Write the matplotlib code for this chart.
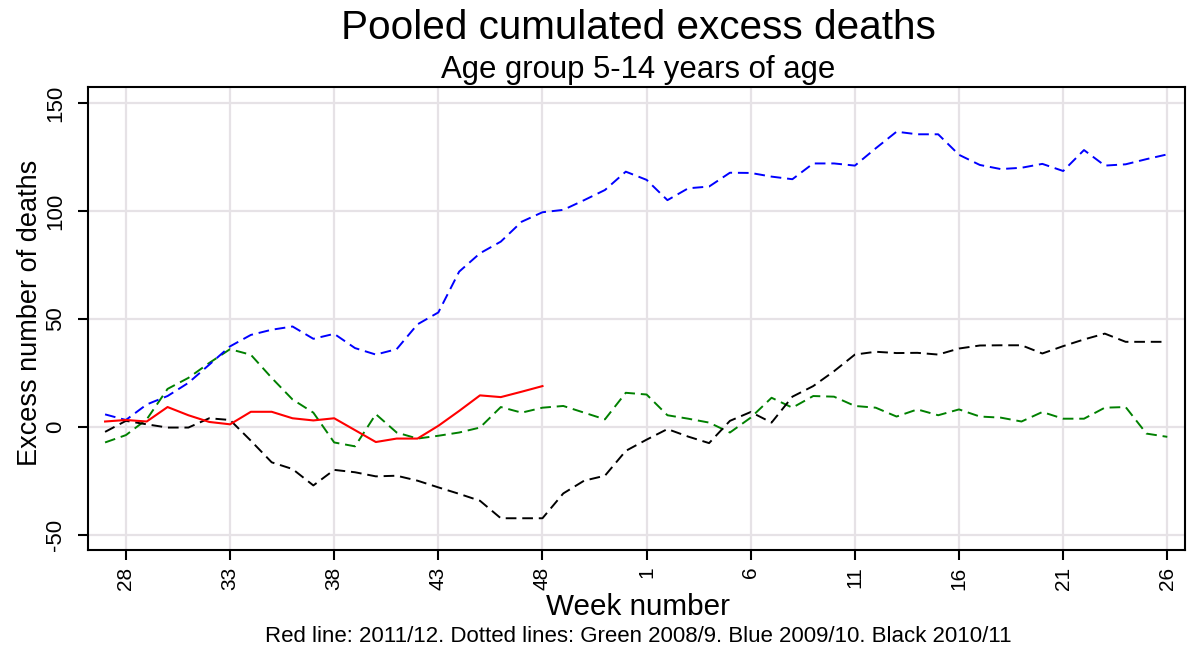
import matplotlib
matplotlib.use("Agg")
import matplotlib.pyplot as plt
import numpy as np

plt.rcParams['font.family'] = ['Liberation Sans', 'DejaVu Sans']

# Week sequence: 27..52 then 1..26
weeks = list(range(27, 53)) + list(range(1, 27))
tick_weeks = [28, 33, 38, 43, 48, 1, 6, 11, 16, 21, 26]

# 2011/12 (red, weeks 27..48)
red = [2.5, 3.2, 2.5, 9.2, 5.4, 2.3, 1.2, 7.0, 7.0, 4.0, 3.0, 4.0, -1.5, -7.0,
       -5.4, -5.4, 0.5, 7.4, 14.6, 13.8, 16.3, 18.9]

# 2008/9 (green)
green = [-7.2, -3.8, 3.5, 17.6, 22.7, 29.6, 36.0, 33.4, 22.7, 12.7, 6.6, -7.2,
         -9.0, 5.9, -2.6, -5.4, -4.1, -2.6, -0.3, 9.2, 6.6, 8.9, 9.7, 6.6, 3.5, 15.8,
         15.0, 5.4, 3.8, 2.0, -2.6, 4.3, 13.5, 8.9, 14.3, 14.0, 9.7, 8.9, 4.8,
         8.1, 5.4, 8.1, 4.8, 4.3, 2.5, 6.9, 3.8, 3.8, 8.9, 9.2, -3.1, -4.6]

# 2009/10 (blue)
blue = [5.8, 3.2, 10.4, 14.3, 20.4, 28.8, 37.3, 42.6, 45.0, 46.5, 40.8, 43.1,
        36.5, 33.5, 36.0, 47.5, 53.0, 71.9, 80.4, 85.8, 95.0, 99.4, 100.5, 105.0,
        109.7, 118.2, 114.4, 105.0, 110.5, 111.3, 117.7, 117.6, 115.9, 114.7, 122.0,
        122.0, 121.0, 129.0, 136.7, 135.5, 135.5, 126.0, 121.3, 119.4, 120.0, 121.8,
        118.5, 128.2, 121.0, 121.6, 124.0, 126.2]

# 2010/11 (black)
black = [-2.3, 2.8, 1.2, -0.3, -0.3, 4.0, 3.2, -6.4, -16.4, -19.5, -27.1, -19.9,
         -21.0, -22.9, -22.6, -24.9, -28.0, -31.0, -34.2, -42.3, -42.3, -42.3, -30.8,
         -24.9, -22.6, -11.1, -5.9, -1.0, -4.5, -7.5, 2.8, 6.9, 2.0, 14.0, 18.9, 25.8,
         33.5, 34.8, 34.2, 34.3, 33.5, 36.3, 37.7, 37.8, 37.8, 34.0, 37.4, 40.5, 43.2,
         39.4, 39.4, 39.4]

yticks = [-50, 0, 50, 100, 150]

W, H = 1187, 652
fig = plt.figure(figsize=(W / 100, H / 100), dpi=100)
ax = fig.add_axes([88 / W, 1 - 550 / H, (1185 - 88) / W, (550 - 87) / H])

x = np.arange(len(weeks))
grid_c = '#e6e2e6'
for v in yticks:
    ax.axhline(v, color=grid_c, lw=1.6, zorder=0)
tick_pos = [weeks.index(w) if w >= 27 else 26 + w - 1 for w in tick_weeks]
for p in tick_pos:
    ax.axvline(p, color=grid_c, lw=1.6, zorder=0)

dash = (5.5, 3.0)
ax.plot(x[:len(green)], green, color='#008000', lw=1.4, dashes=dash)
ax.plot(x[:len(blue)], blue, color='#0000ff', lw=1.4, dashes=dash)
ax.plot(x[:len(black)], black, color='black', lw=1.4, dashes=dash)
ax.plot(x[:len(red)], red, color='#ff0000', lw=1.5)

ax.set_xlim(-0.82, 51.85)
ax.set_ylim(-57, 157.4)
ax.set_xticks(tick_pos)
ax.set_xticklabels([str(w) for w in tick_weeks], rotation=90, fontsize=15)
ax.set_yticks(yticks)
ax.set_yticklabels([str(v) for v in yticks], rotation=90, va='center', fontsize=16)
ax.tick_params(axis='both', direction='out', length=7.5, width=1.5, color='black')
ax.tick_params(axis='x', pad=4.5)
ax.tick_params(axis='y', pad=8)
for s in ax.spines.values():
    s.set_linewidth(1.5)
    s.set_color('black')

fig.text(638 / W, 1 - 28 / H, 'Pooled cumulated excess deaths', ha='center', va='center', fontsize=29.2)
fig.text(638 / W, 1 - 70 / H, 'Age group 5-14 years of age', ha='center', va='center', fontsize=22.4)
fig.text(30 / W, 1 - 313 / H, 'Excess number of deaths', ha='center', va='center', rotation=90, fontsize=19.5)
fig.text(638 / W, 1 - 607 / H, 'Week number', ha='center', va='center', fontsize=21.3)
fig.text(638 / W, 1 - 637 / H, 'Red line: 2011/12. Dotted lines: Green 2008/9. Blue 2009/10. Black 2010/11',
         ha='center', va='center', fontsize=16)

fig.savefig('out.png', dpi=100)
